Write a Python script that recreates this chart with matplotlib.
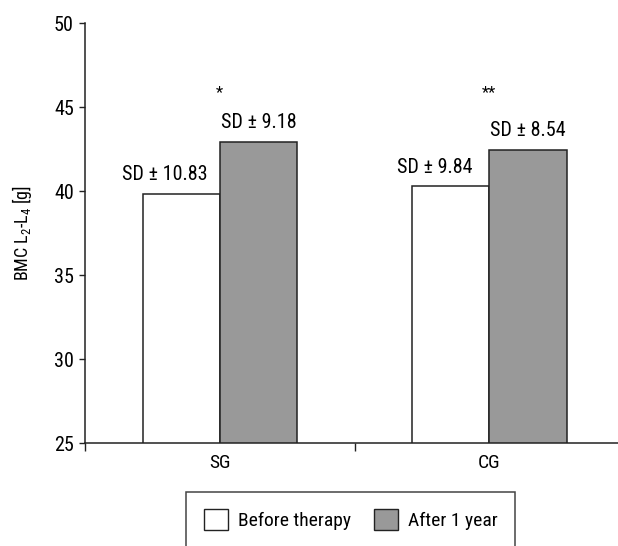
import numpy as np
import matplotlib.pyplot as plt
from matplotlib.patches import Patch

plt.rcParams['font.family'] = ['Roboto Condensed', 'DejaVu Sans']
plt.rcParams['mathtext.fontset'] = 'custom'
plt.rcParams['mathtext.rm'] = 'Roboto Condensed'

groups = ['SG', 'CG']
before = [39.85, 40.3]
after = [42.95, 42.45]
sd_before = ['SD ± 10.83', 'SD ± 9.84']
sd_after = ['SD ± 9.18', 'SD ± 8.54']
signif = ['*', '**']

white = '#ffffff'
gray = '#999999'
edge = '#222222'

fig = plt.figure(figsize=(6.18, 5.46), dpi=100)
ax = fig.add_axes([85 / 618, 102.7 / 546, 533 / 618, 420 / 546])

x = np.arange(len(groups)) + 0.5
w = 0.286
ax.bar(x - w / 2, before, w, bottom=0, color=white, edgecolor=edge, linewidth=1.1, zorder=2)
ax.bar(x + w / 2, after, w, bottom=0, color=gray, edgecolor=edge, linewidth=1.1, zorder=2)

for i in range(len(groups)):
    ax.annotate(sd_before[i], (x[i] - w / 2 - 0.06, before[i]), xytext=(0, 7),
                textcoords='offset points', ha='center', va='bottom', fontsize=14.5)
    ax.annotate(sd_after[i], (x[i] + w / 2, after[i]), xytext=(0, 7),
                textcoords='offset points', ha='center', va='bottom', fontsize=14.5)
    ax.text(x[i], 45.9, signif[i], ha='center', va='center', fontsize=12)

ax.set_ylim(25, 50)
ax.set_xlim(0, 1.977)
ax.set_yticks(np.arange(25, 51, 5))
ax.set_xticks([0, 1])
ax.set_xticklabels([])
ax.set_xticks(x, minor=True)
ax.set_xticklabels(groups, minor=True)
ax.tick_params(axis='x', which='major', length=6, width=1, color=edge, direction='out')
ax.tick_params(axis='x', which='minor', length=0, pad=8, labelsize=14)
ax.tick_params(axis='y', length=4, width=1, color=edge, direction='out', pad=4, labelsize=14.5)

for s in ['top', 'right']:
    ax.spines[s].set_visible(False)
for s in ['left', 'bottom']:
    ax.spines[s].set_color(edge)
    ax.spines[s].set_linewidth(1.1)

fig.text(21.5 / 618, 1 - 233 / 546, r'BMC L$_{\mathregular{2}}$-L$_{\mathregular{4}}$ [g]',
         rotation=90, ha='center', va='center', fontsize=13)

handles = [Patch(facecolor=white, edgecolor=edge, linewidth=1),
           Patch(facecolor=gray, edgecolor=edge, linewidth=1)]
leg = fig.legend(handles, ['Before therapy', 'After 1 year'], loc='upper center',
                 bbox_to_anchor=(350.8 / 618, 1 - 491.7 / 546), ncol=2, fontsize=14,
                 frameon=True, fancybox=False, edgecolor='#444444', framealpha=1,
                 handlelength=1.25, handleheight=1.25, handletextpad=0.5,
                 columnspacing=1.2, borderpad=0.9, borderaxespad=0)
leg.get_frame().set_linewidth(1.1)

fig.savefig('out.png', dpi=100)
